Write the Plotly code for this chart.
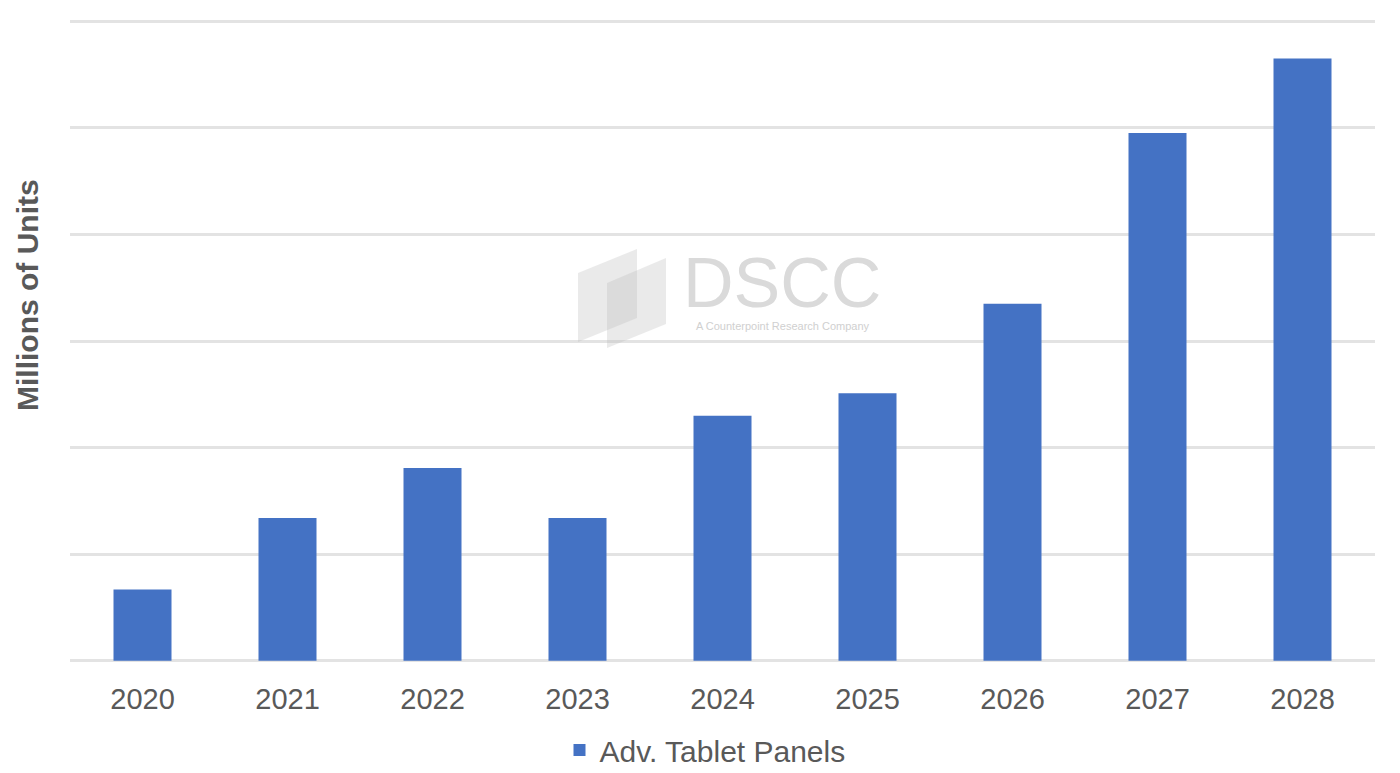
import plotly.graph_objects as go

years = ["2020", "2021", "2022", "2023", "2024", "2025", "2026", "2027", "2028"]
adv_tablet_panels = [0.67, 1.34, 1.81, 1.34, 2.30, 2.51, 3.35, 4.95, 5.65]
series_name = "Adv. Tablet Panels"

W, H = 1400, 773
Y_MIN, Y_MAX = -0.02, 6.02
UNIT = 640 / 6  # pixels per unit
BASE_Y = 661    # pixel of value 0
ML, MR = 70, 25
PH = round(UNIT * (Y_MAX - Y_MIN))
BOTTOM = BASE_Y + round(UNIT * (0 - Y_MIN))
MB = H - BOTTOM
MT = H - MB - PH
PW = W - ML - MR


def px(x):
    return (x - ML) / PW


def py(y):
    return (BOTTOM - y) / PH


fig = go.Figure()
fig.add_trace(go.Bar(x=years, y=adv_tablet_panels, name=series_name,
                     marker=dict(color="#4472C4", line=dict(width=0))))

# watermark
shapes = []
for pts in [[(578, 273), (637, 249), (637, 318), (578, 342)],
            [(607, 283), (666, 258), (666, 324), (607, 348)]]:
    path = "M " + " L ".join(f"{px(a):.5f},{py(b):.5f}" for a, b in pts) + " Z"
    shapes.append(dict(type="path", path=path, xref="paper", yref="paper",
                       fillcolor="rgba(185,185,185,0.3)", line=dict(width=0),
                       layer="above"))

annotations = [
    dict(text="DSCC", x=px(782), y=py(283), xref="paper", yref="paper",
         showarrow=False, font=dict(family="Liberation Sans, Arial", size=70, color="#dadada"),
         xanchor="center", yanchor="middle"),
    dict(text="A Counterpoint Research Company", x=px(783), y=py(326), xref="paper", yref="paper",
         showarrow=False, font=dict(family="Liberation Sans, Arial", size=11, color="#d0d0d0"),
         xanchor="center", yanchor="middle"),
    dict(text="<b>Millions of Units</b>", x=px(27), y=py(295), xref="paper", yref="paper",
         showarrow=False, textangle=-90, font=dict(family="Liberation Sans, Arial", size=30, color="#595959"),
         xanchor="center", yanchor="middle"),
]

fig.update_layout(
    width=W, height=H,
    margin=dict(l=ML, r=MR, t=MT, b=MB, autoexpand=False),
    plot_bgcolor="white", paper_bgcolor="white",
    font=dict(family="Liberation Sans, Arial", size=30, color="#595959"),
    bargap=0.6,
    showlegend=True,
    legend=dict(orientation="h", x=px(705), y=py(750), xanchor="center", yanchor="middle",
                font=dict(size=30, color="#595959"), itemsizing="constant"),
    shapes=shapes,
    annotations=annotations,
    xaxis=dict(showgrid=False, showline=False, ticks="", ticklabelstandoff=16,
               tickfont=dict(size=29, color="#595959")),
    yaxis=dict(range=[Y_MIN, Y_MAX], tick0=0, dtick=1, showticklabels=False, showgrid=True,
               gridcolor="#e3e3e3", gridwidth=2.5, zeroline=False, showline=False, ticks=""),
)

fig.write_html("out.html")
